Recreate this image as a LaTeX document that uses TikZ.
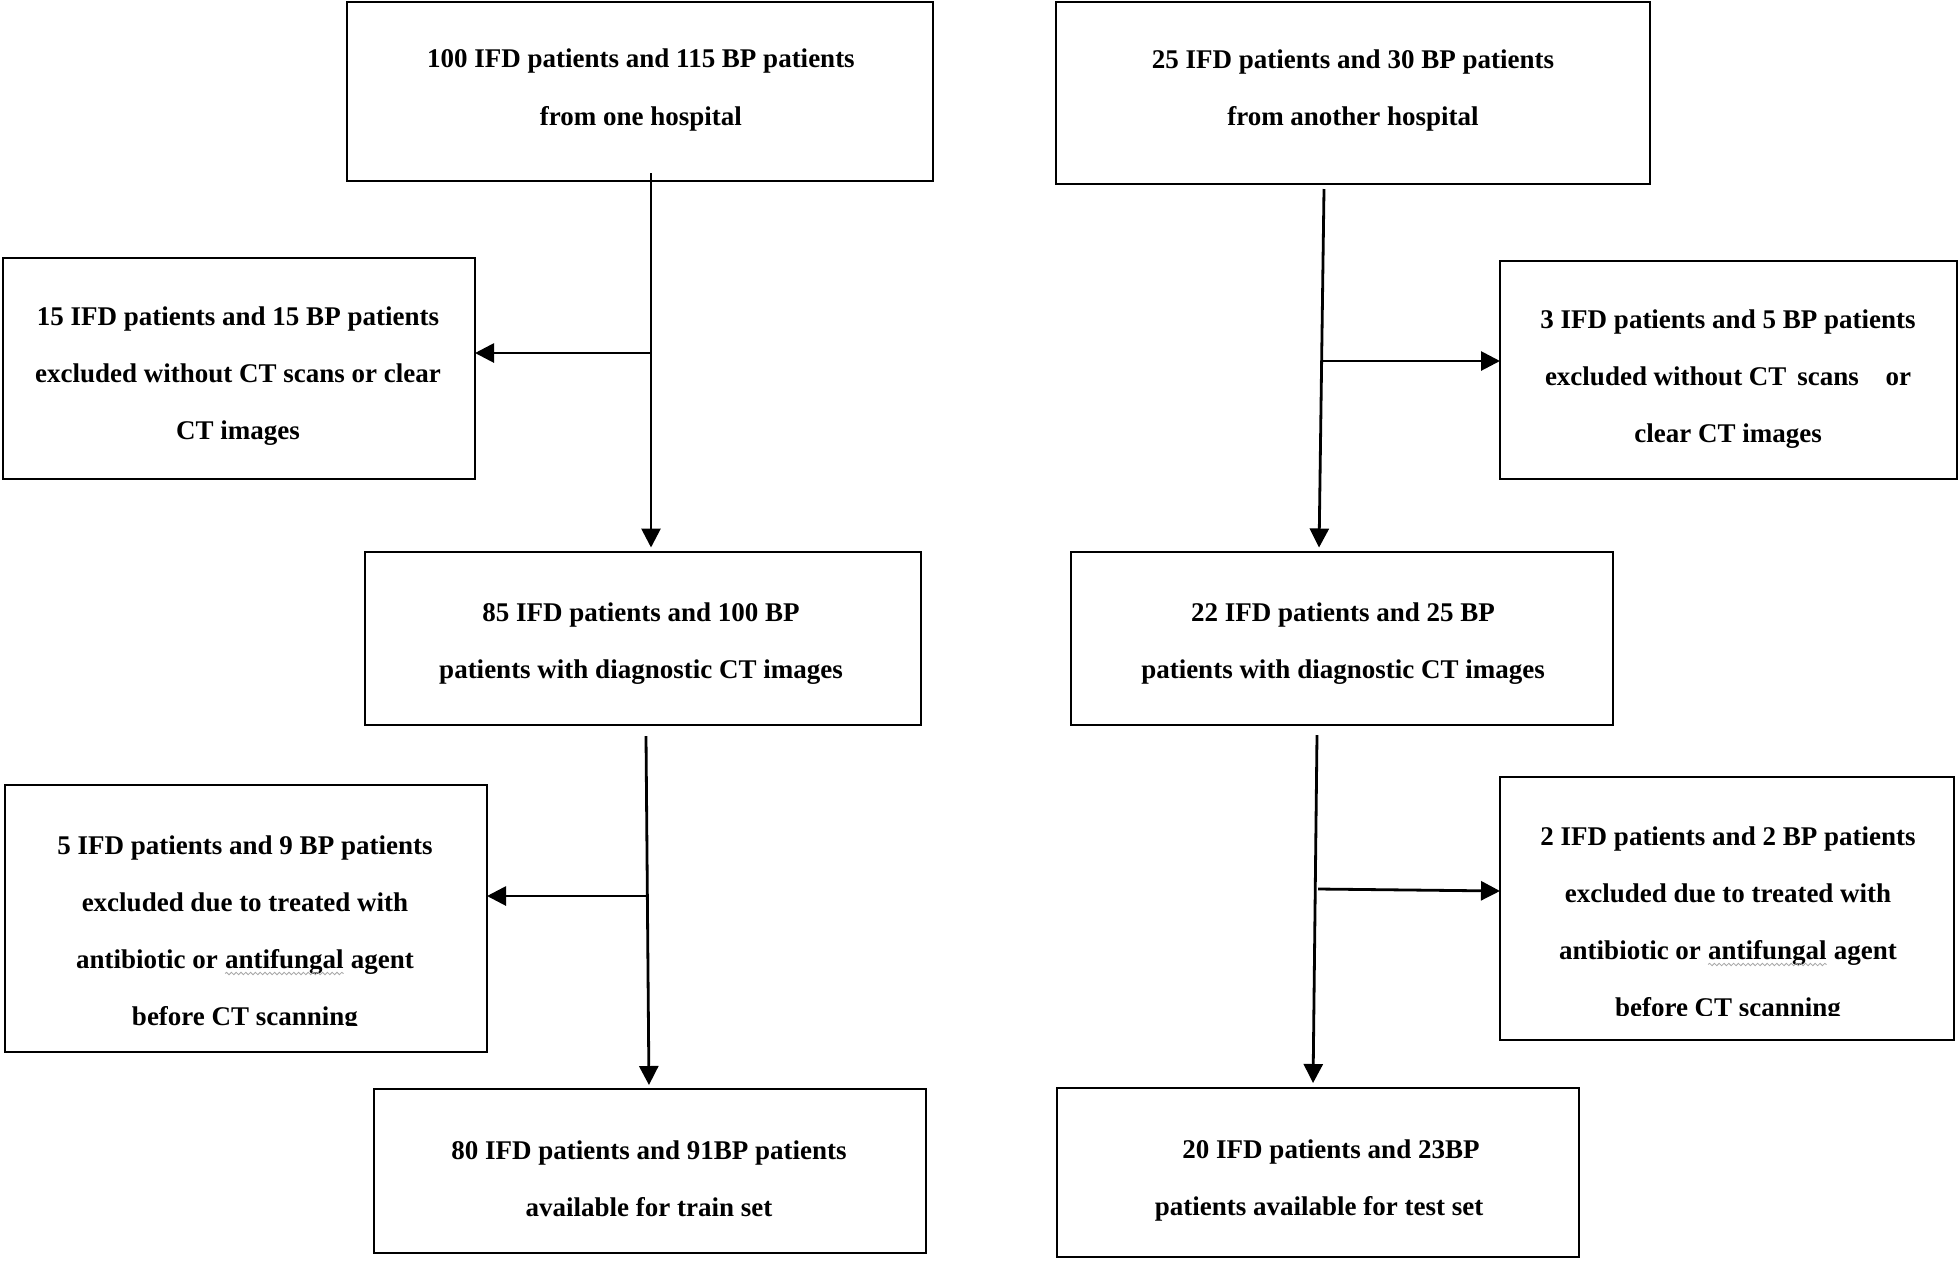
\documentclass[tikz,border=0pt]{standalone}
\usepackage{fontspec}
\setmainfont{Liberation Serif}
\usetikzlibrary{arrows.meta,decorations.pathmorphing}
\tikzset{
  boxnode/.style={draw=black, line width=1.45pt, inner sep=0pt, outer sep=0pt},
  txtnode/.style={inner sep=0pt, outer sep=0pt, align=center, font=\fontsize{13.5pt}{28.5pt}\selectfont\bfseries},
  arrowline/.style={line width=1.4pt, -{Triangle[length=9.5pt,width=9.5pt]}},
}
\newcommand\spellwave[2]{\tikz[baseline=(#1.base)]{\node[inner sep=0pt,outer sep=0pt,anchor=base] (#1) {#2};\draw[gray!70,line width=0.4pt,decorate,decoration={snake,amplitude=0.6pt,segment length=2.4pt}] ([yshift=-2.3pt]#1.base west) -- ([yshift=-2.3pt]#1.base east);}}
\begin{document}
\begin{tikzpicture}[x=0.5pt,y=-0.5pt]
\useasboundingbox (0,0) rectangle (1960,1265);
\fill[white] (0,0) rectangle (1960,1265);

% boxes
\node[boxnode, minimum width=293pt, minimum height=89.5pt] (tl) at (640,91.5) {};
\node[boxnode, minimum width=297pt, minimum height=91pt] (tr) at (1353,93) {};
\node[boxnode, minimum width=236pt, minimum height=110.5pt] (le1) at (239,368.5) {};
\node[boxnode, minimum width=228.5pt, minimum height=109pt] (re1) at (1728.5,370) {};
\node[boxnode, minimum width=278pt, minimum height=86.5pt] (ml) at (643,638.5) {};
\node[boxnode, minimum width=271pt, minimum height=86.5pt] (mr) at (1342,638.5) {};
\node[boxnode, minimum width=241pt, minimum height=133.5pt] (le2) at (246,918.5) {};
\node[boxnode, minimum width=227pt, minimum height=131.5pt] (re2) at (1727,908.5) {};
\node[boxnode, minimum width=276pt, minimum height=82pt] (bl) at (650,1171) {};
\node[boxnode, minimum width=261pt, minimum height=84.5pt] (br) at (1318,1172.5) {};

% texts
\node[txtnode] (tlt) at (641,90) {100 IFD patients and 115 BP patients\\from one hospital};
\node[txtnode] (trt) at (1353,90.5) {25 IFD patients and 30 BP patients\\from another hospital};
\node[txtnode] (le1t) at (238,376) {15 IFD patients and 15 BP patients\\excluded without CT scans or clear\\CT images};
\node[txtnode] (re1t) at (1728,379) {3 IFD patients and 5 BP patients\\excluded without CT\hspace{2pt} scans\hspace{10pt} or\\clear CT images};
\node[txtnode] (mlt) at (641,644) {85 IFD patients and 100 BP\\patients with diagnostic CT images};
\node[txtnode] (mrt) at (1343,644) {22 IFD patients and 25 BP\\patients with diagnostic CT images};
\begin{scope}
\clip (le2.north west) rectangle ([yshift=13.5pt]le2.south east);
\node[txtnode] (le2t) at (245,934) {5 IFD patients and 9 BP patients\\excluded due to treated with\\antibiotic or \spellwave{swa}{antifungal} agent\\before CT scanning};
\end{scope}
\begin{scope}
\clip (re2.north west) rectangle ([yshift=12.5pt]re2.south east);
\node[txtnode] (re2t) at (1728,925) {2 IFD patients and 2 BP patients\\excluded due to treated with\\antibiotic or \spellwave{swb}{antifungal} agent\\before CT scanning};
\end{scope}
\node[txtnode] (blt) at (649,1179) {80 IFD patients and 91BP patients\\available for train set};
\node[txtnode] (brt) at (1319,1180) {\hspace*{12pt}20 IFD patients and 23BP\\patients available for test set};

% connectors left
\coordinate (a1s) at (651,173);
\coordinate (a1b) at (651,353);
\draw[arrowline, shorten >=2.25pt] (a1s) -- (a1s |- ml.north);
\draw[arrowline] (a1b) -- (a1b -| le1.east);
\coordinate (a2s) at (646,736);
\coordinate (a2b) at (647,896);
\draw[arrowline, shorten >=2pt] (a2s) -- ([xshift=1.5pt]a2s |- bl.north);
\draw[arrowline] (a2b) -- (a2b -| le2.east);

% connectors right
\coordinate (r1s) at (1324,189);
\coordinate (r1b) at (1322,361);
\draw[arrowline, shorten >=2.25pt] (r1s) -- ([xshift=-2.5pt]r1s |- mr.north);
\draw[arrowline] (r1b) -- (r1b -| re1.west);
\coordinate (r2s) at (1317,735);
\coordinate (r2b) at (1318,889);
\draw[arrowline, shorten >=2.5pt] (r2s) -- ([xshift=-2pt]r2s |- br.north);
\draw[arrowline] (r2b) -- ([yshift=-1pt]r2b -| re2.west);
\end{tikzpicture}
\end{document}
